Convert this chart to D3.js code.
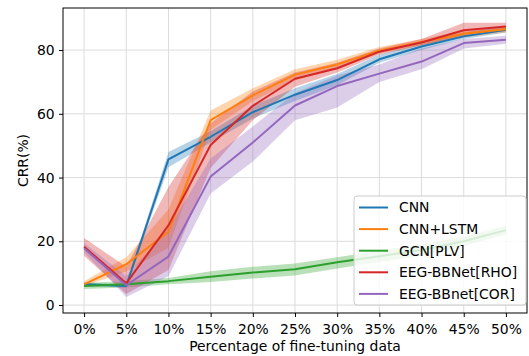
<!DOCTYPE html>
<html>
<head>
<meta charset="utf-8">
<script src="https://cdn.jsdelivr.net/npm/d3@7"></script>
<style>
  body { margin: 0; background: #fff; }
  svg { display: block; font-family: "DejaVu Sans", sans-serif; }
</style>
</head>
<body>
<div id="chart"></div>
<script>
const pct = [0, 5, 10, 15, 20, 25, 30, 35, 40, 45, 50];
const yTicks = [0, 20, 40, 60, 80];

const cnnMean = [6.5, 6.0, 45.7, 52.8, 60.5, 66.0, 70.6, 77.1, 81.1, 84.3, 86.4];
const cnnLo   = [6.0, 5.5, 43.2, 51.0, 58.5, 64.0, 69.0, 76.0, 80.0, 83.5, 85.5];
const cnnHi   = [7.0, 6.5, 48.0, 54.5, 62.5, 68.0, 72.5, 78.5, 82.0, 85.5, 87.5];

const lstmMean = [6.5, 12.8, 23.0, 58.0, 65.8, 72.3, 75.5, 79.8, 82.5, 85.1, 86.5];
const lstmLo   = [6.0, 10.5, 18.0, 55.0, 64.0, 70.5, 74.0, 79.0, 81.5, 84.0, 85.5];
const lstmHi   = [7.5, 15.0, 30.0, 61.0, 68.0, 74.0, 77.0, 81.0, 83.5, 86.0, 87.5];

const gcnMean = [6.0, 6.5, 7.5, 8.9, 10.2, 11.2, 13.4, 15.3, 17.3, 20.0, 23.5];
const gcnLo   = [5.0, 5.5, 6.5, 7.2, 8.3, 9.3, 11.5, 13.5, 15.5, 18.5, 22.2];
const gcnHi   = [7.0, 7.5, 8.5, 10.6, 12.0, 13.0, 15.0, 17.0, 19.0, 21.5, 24.8];

const rhoMean = [18.3, 6.8, 25.0, 50.2, 62.5, 71.0, 74.3, 79.5, 82.4, 86.2, 87.4];
const rhoLo   = [15.5, 3.5, 11.0, 43.0, 58.0, 68.5, 73.0, 78.5, 81.5, 84.3, 86.0];
const rhoHi   = [21.0, 12.0, 37.0, 57.0, 67.0, 73.0, 76.0, 80.5, 83.5, 88.6, 88.6];

const corMean = [17.8, 6.2, 15.2, 40.3, 51.0, 62.6, 68.7, 72.6, 76.4, 82.2, 83.2];
const corLo   = [16.5, 2.5, 9.0, 35.0, 45.0, 58.0, 62.0, 70.0, 74.0, 80.5, 82.0];
const corHi   = [19.5, 9.0, 24.0, 46.0, 56.0, 66.5, 72.0, 75.5, 80.5, 83.5, 84.5];

const seriesNames = ['CNN', 'CNN+LSTM', 'GCN[PLV]', 'EEG-BBNet[RHO]', 'EEG-BBnet[COR]'];
const seriesColors = ['#1f77b4', '#ff7f0e', '#2ca02c', '#d62728', '#9467bd'];

const series = [
  { mean: cnnMean, lo: cnnLo, hi: cnnHi },
  { mean: lstmMean, lo: lstmLo, hi: lstmHi },
  { mean: gcnMean, lo: gcnLo, hi: gcnHi },
  { mean: rhoMean, lo: rhoLo, hi: rhoHi },
  { mean: corMean, lo: corLo, hi: corHi }
].map((s, i) => ({ ...s, name: seriesNames[i], color: seriesColors[i] }));

const width = 529, height = 356;
const margin = { top: 8, right: 2, bottom: 43, left: 63 };
const fs = 13.9;

const svg = d3.select('#chart').append('svg')
  .attr('width', width)
  .attr('height', height);

const x_sc = d3.scaleLinear().domain([-2.5, 52.5]).range([margin.left, width - margin.right]);
const y_sc = d3.scaleLinear().domain([-2.5, 93.2]).range([height - margin.bottom, margin.top]);

// grid
const grid = svg.append('g');
grid.selectAll('.gx').data(pct).enter().append('line')
  .attr('x1', d => x_sc(d)).attr('x2', d => x_sc(d))
  .attr('y1', margin.top).attr('y2', height - margin.bottom)
  .attr('stroke', '#dcdcdc').attr('stroke-width', 1);
grid.selectAll('.gy').data(yTicks).enter().append('line')
  .attr('y1', d => y_sc(d)).attr('y2', d => y_sc(d))
  .attr('x1', margin.left).attr('x2', width - margin.right)
  .attr('stroke', '#dcdcdc').attr('stroke-width', 1);

// bands first, then lines
const area = d3.area()
  .x((d, i) => x_sc(pct[i]))
  .y0(d => y_sc(d[0]))
  .y1(d => y_sc(d[1]));

const line = d3.line()
  .x((d, i) => x_sc(pct[i]))
  .y(d => y_sc(d));

svg.append('g').selectAll('path').data(series).enter().append('path')
  .attr('d', s => area(s.lo.map((v, i) => [v, s.hi[i]])))
  .attr('fill', s => s.color)
  .attr('fill-opacity', 0.33);

svg.append('g').selectAll('path').data(series).enter().append('path')
  .attr('d', s => line(s.mean))
  .attr('fill', 'none')
  .attr('stroke', s => s.color)
  .attr('stroke-width', 2)
  .attr('stroke-linejoin', 'round');

// axes
const xAxis = d3.axisBottom(x_sc).tickValues(pct).tickFormat(d => d + '%').tickSizeOuter(0).tickSize(4);
const yAxis = d3.axisLeft(y_sc).tickValues(yTicks).tickSizeOuter(0).tickSize(4);

const gx = svg.append('g')
  .attr('transform', `translate(0,${height - margin.bottom})`)
  .call(xAxis);
const gy = svg.append('g')
  .attr('transform', `translate(${margin.left},0)`)
  .call(yAxis);

[gx, gy].forEach(g => {
  g.select('.domain').remove();
  g.selectAll('text').attr('font-size', fs).attr('fill', '#000')
    .attr('font-family', '"DejaVu Sans", sans-serif');
  g.selectAll('line').attr('stroke', '#000');
});
gx.selectAll('text').attr('dy', '1.0em');
gy.selectAll('text').attr('dx', '-0.1em');

// spines
svg.append('rect')
  .attr('x', margin.left).attr('y', margin.top)
  .attr('width', width - margin.right - margin.left)
  .attr('height', height - margin.bottom - margin.top)
  .attr('fill', 'none').attr('stroke', '#000').attr('stroke-width', 1);

// labels
svg.append('text')
  .attr('x', (margin.left + width - margin.right) / 2)
  .attr('y', 351)
  .attr('text-anchor', 'middle')
  .attr('font-size', fs)
  .text('Percentage of fine-tuning data');

svg.append('text')
  .attr('transform', `translate(28,${(margin.top + height - margin.bottom) / 2}) rotate(-90)`)
  .attr('text-anchor', 'middle')
  .attr('font-size', fs)
  .text('CRR(%)');

// legend
const lg = svg.append('g').attr('transform', 'translate(354,196)');
lg.append('rect')
  .attr('width', 172).attr('height', 109)
  .attr('rx', 3)
  .attr('fill', '#fff').attr('fill-opacity', 0.8)
  .attr('stroke', '#ccc').attr('stroke-width', 1);

const items = lg.selectAll('.item').data(series).enter().append('g')
  .attr('transform', (d, i) => `translate(0,${11.5 + i * 21.6})`);
items.append('line')
  .attr('x1', 5).attr('x2', 34)
  .attr('stroke', d => d.color).attr('stroke-width', 2);
items.append('text')
  .attr('x', 45).attr('dy', '0.35em')
  .attr('font-size', fs)
  .text(d => d.name);
</script>
</body>
</html>
